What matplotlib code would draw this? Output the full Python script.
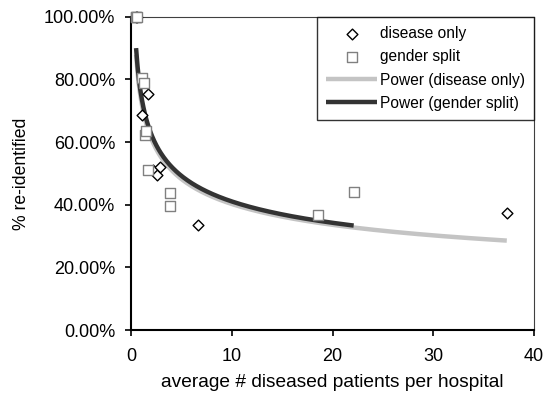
import numpy as np
import matplotlib
matplotlib.use("Agg")
import matplotlib.pyplot as plt
from matplotlib.ticker import FuncFormatter

plt.rcParams['font.family'] = ['Liberation Sans', 'DejaVu Sans']

# ---------- data ----------
disease_x = [0.5, 0.55, 1.05, 1.65, 2.2, 2.55, 2.9, 6.6, 37.3]
disease_y = [100.0, 100.0, 68.7, 75.4, 51.0, 49.5, 52.2, 33.5, 37.5]

gender_x = [0.5, 0.5, 0.55, 1.1, 1.25, 1.4, 1.5, 1.7, 3.9, 3.9, 18.6, 22.1]
gender_y = [100.0, 100.0, 100.0, 80.5, 79.0, 62.3, 63.5, 51.0, 43.7, 39.5, 36.7, 44.2]

x_ticks = [0, 10, 20, 30, 40]
y_ticks = [0, 20, 40, 60, 80, 100]


def power_fit(x, y):
    # Excel style power trendline: least squares on ln(y) vs ln(x)
    b, ln_a = np.polyfit(np.log(x), np.log(y), 1)
    xs = np.linspace(min(x), max(x), 300)
    return xs, np.exp(ln_a) * xs ** b


fig = plt.figure(figsize=(5.46, 4.01), dpi=100)
ax = fig.add_axes([0.24, 0.177, 0.738, 0.781])

# trendlines
xs, ys = power_fit(disease_x, disease_y)
ax.plot(xs, ys, color="#c4c4c4", lw=3.2, solid_capstyle="butt",
        label="Power (disease only)", zorder=2)
xs, ys = power_fit(gender_x, gender_y)
ax.plot(xs, ys, color="#333333", lw=3.2, solid_capstyle="butt",
        label="Power (gender split)", zorder=3)

ax.scatter(disease_x, disease_y, marker="D", s=30, facecolor="white",
           edgecolor="black", linewidth=1.0, label="disease only",
           zorder=4, clip_on=False)
ax.scatter(gender_x, gender_y, marker="s", s=50, facecolor="white",
           edgecolor="#808080", linewidth=1.0, label="gender split",
           zorder=4, clip_on=False)

ax.set_xlim(0, 40)
ax.set_ylim(0, 100)
ax.set_xticks(x_ticks)
ax.set_yticks(y_ticks)
ax.yaxis.set_major_formatter(FuncFormatter(lambda v, p: f"{v:.2f}%"))
ax.tick_params(direction="out", length=4.3, width=1.2, labelsize=13, colors="black")
ax.tick_params(axis="y", pad=7)
ax.tick_params(axis="x", pad=9)

for side in ["left", "bottom"]:
    ax.spines[side].set_linewidth(1.5)
    ax.spines[side].set_color("black")
for side in ["top", "right"]:
    ax.spines[side].set_linewidth(0.8)
    ax.spines[side].set_color("#404040")

ax.set_xlabel("average # diseased patients per hospital", fontsize=13.8, labelpad=6)
ax.set_ylabel("% re-identified", fontsize=12.7, labelpad=10)

handles, labels = ax.get_legend_handles_labels()
order = [2, 3, 0, 1]
leg = ax.legend([handles[i] for i in order], [labels[i] for i in order],
                loc="upper right", bbox_to_anchor=(1.0, 1.0), fontsize=11.2,
                frameon=True, fancybox=False, edgecolor="black",
                borderaxespad=0, handlelength=3.3, handletextpad=0.15,
                labelspacing=0.53, borderpad=0.6)
leg.get_frame().set_linewidth(1.0)

fig.savefig("out.png", dpi=100)
